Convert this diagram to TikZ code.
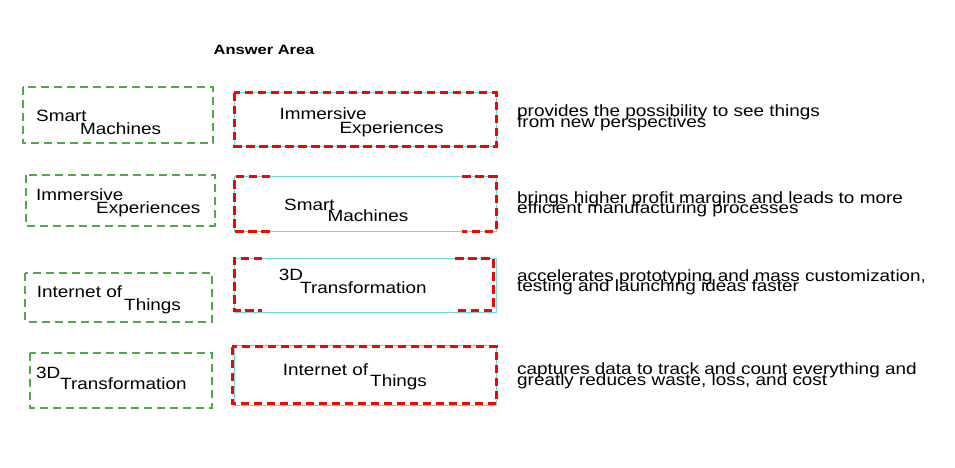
\documentclass[tikz,border=0pt]{standalone}
\usepackage{fontspec}
\setmainfont{Liberation Sans}[FakeStretch=1.16]
\newfontfamily\ansfont{Liberation Sans}[FakeStretch=1.22]
\definecolor{gbox}{RGB}{76,170,72}
\definecolor{rbox}{RGB}{255,0,0}
\definecolor{cbox}{RGB}{110,220,220}
\tikzset{
  greenbox/.style={draw=gbox, line width=2.2pt, dash pattern=on 8pt off 5pt},
  cyanbox/.style={draw=cbox, line width=1pt},
  redline/.style={draw=rbox, line width=3pt, dash pattern=on 8.5pt off 4.5pt},
  txt/.style={anchor=base west, inner sep=0pt, font=\fontsize{16.3}{18}\selectfont}
}
\begin{document}
\begin{tikzpicture}[x=1pt,y=-1pt]
\useasboundingbox (0,0) rectangle (955,467);
\fill[white] (0,0) rectangle (955,467);

\node[anchor=base west, inner sep=0pt, font=\ansfont\bfseries\fontsize{13.5}{15}\selectfont] (title) at (213.5,54) {Answer Area};

% left green boxes
\draw[greenbox] (22.7,86.7) rectangle (213.3,143.3);
\draw[greenbox] (26,175) rectangle (215,225.7);
\draw[greenbox] (25,273.3) rectangle (212,321.7);
\draw[greenbox] (30,353) rectangle (212,408);

\node[txt] (l1a) at (36,121.7) {Smart};
\node[txt] (l1b) at (80,134) {Machines};
\node[txt] (l2a) at (36,200) {Immersive};
\node[txt] (l2b) at (96,213.3) {Experiences};
\node[txt] (l3a) at (36.7,297.7) {Internet of};
\node[txt] (l3b) at (124,310) {Things};
\node[txt] (l4a) at (36,378) {3D};
\node[txt] (l4b) at (60,389.3) {Transformation};

% right boxes
\draw[cyanbox] (234.3,92.7) rectangle (496,146);
\draw[redline] (234.3,92.7) rectangle (496,146);

\draw[cyanbox] (234.3,176.7) rectangle (496,231);
\draw[redline] (270,176.7) -- (234.3,176.7) -- (234.3,231) -- (270,231);
\draw[redline] (462,176.7) -- (496,176.7) -- (496,231) -- (462,231);

\draw[cyanbox] (234.3,258.3) rectangle (496,312.7);
\draw[redline] (262,258.3) -- (234,258.3) -- (234,310) -- (262,310);
\draw[redline] (455,258.3) -- (493.3,258.3) -- (493.3,310) -- (455,310);

\draw[cyanbox] (234.3,345.7) rectangle (496.7,405);
\draw[redline] (232.3,346.7) rectangle (496.7,403.3);

\node[txt] (r1a) at (279.3,119) {Immersive};
\node[txt] (r1b) at (339.3,133.3) {Experiences};
\node[txt] (r2a) at (284,210) {Smart};
\node[txt] (r2b) at (327.3,221.7) {Machines};
\node[txt] (r3a) at (278.7,280.7) {3D};
\node[txt] (r3b) at (300,293.3) {Transformation};
\node[txt] (r4a) at (282.7,375) {Internet of};
\node[txt] (r4b) at (370,386.7) {Things};

% descriptions
\node[txt] (d1a) at (517,116.7) {provides the possibility to see things};
\node[txt] (d1b) at (517,127.5) {from new perspectives};
\node[txt] (d2a) at (517,203) {brings higher profit margins and leads to more};
\node[txt] (d2b) at (517,213) {efficient manufacturing processes};
\node[txt] (d3a) at (517,281) {accelerates prototyping and mass customization,};
\node[txt] (d3b) at (517,291.7) {testing and launching ideas faster};
\node[txt] (d4a) at (517,374) {captures data to track and count everything and};
\node[txt] (d4b) at (517,385) {greatly reduces waste, loss, and cost};
\end{tikzpicture}
\end{document}
